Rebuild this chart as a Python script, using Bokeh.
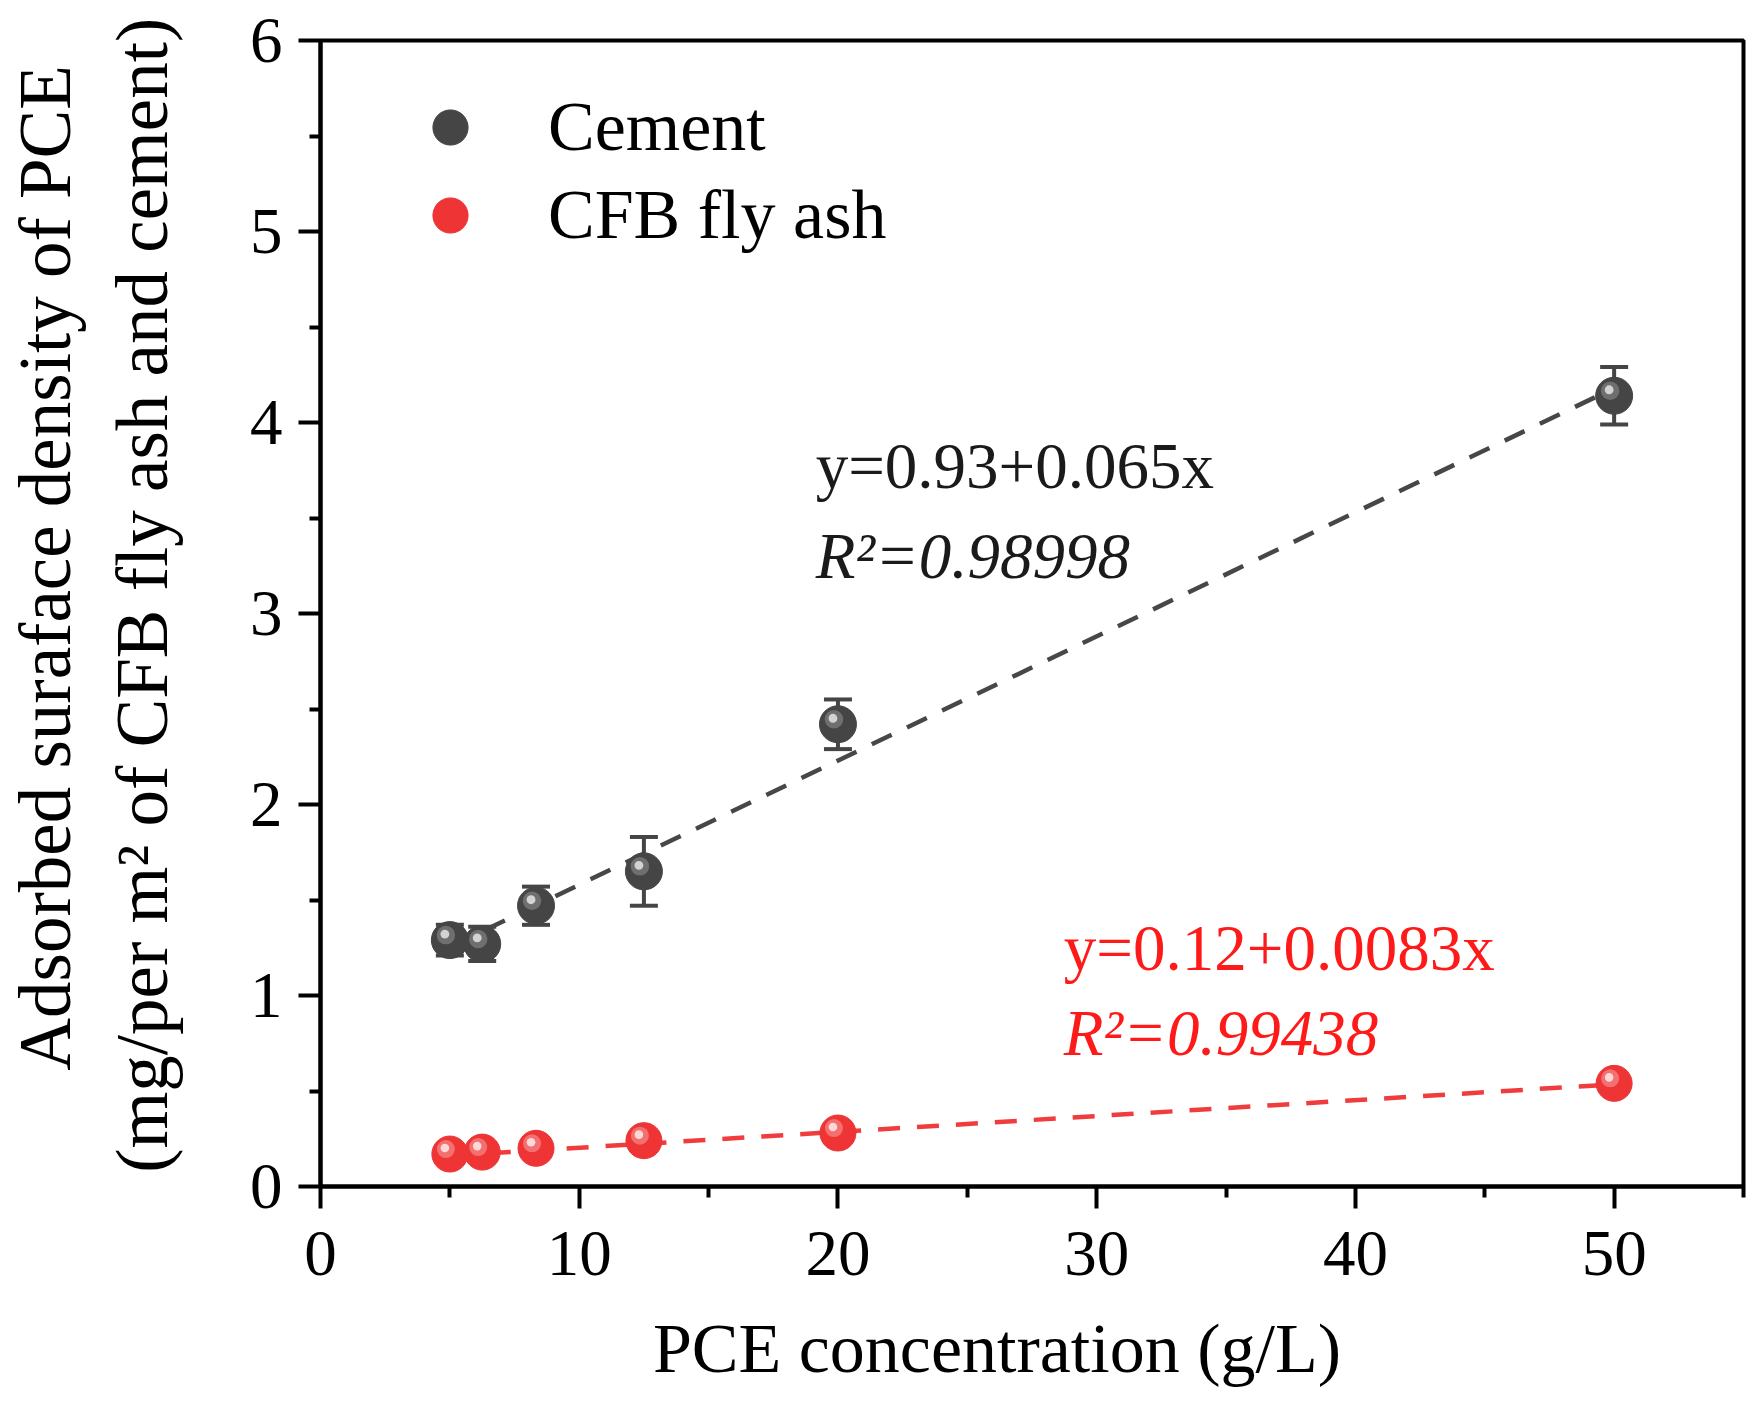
import numpy as np
from bokeh.plotting import figure
from bokeh.models import (Range1d, FixedTicker, Whisker, TeeHead, ColumnDataSource,
                          Label, Legend, LegendItem)
from bokeh.embed import file_html
from bokeh.resources import INLINE

# ---- data ----
conc = [5, 6.25, 8.33, 12.5, 20, 50]
cement = [1.29, 1.27, 1.47, 1.65, 2.42, 4.14]
cement_err = [0.08, 0.09, 0.10, 0.18, 0.13, 0.15]
flyash = [0.17, 0.18, 0.20, 0.24, 0.28, 0.54]
cement_fit = [0.93, 0.065]      # intercept, slope
flyash_fit = [0.12, 0.0083]
fit_x = [5, 50]
x_ticks = [0, 10, 20, 30, 40, 50]
x_minor = [5, 15, 25, 35, 45, 55]
y_ticks = [0, 1, 2, 3, 4, 5, 6]
y_minor = [0.5, 1.5, 2.5, 3.5, 4.5, 5.5]

FONT = "Liberation Serif"
GRAY = "#454545"
RED = "#ee3434"

FW, FH = 1423, 1146
XMAX, YMAX = 55, 6
px_x = FW / XMAX
px_y = FH / YMAX

p = figure(frame_width=FW, frame_height=FH,
           x_range=Range1d(0, XMAX), y_range=Range1d(0, YMAX),
           output_backend="svg", toolbar_location=None,
           min_border_left=320, min_border_right=7,
           min_border_top=40, min_border_bottom=212)
p.background_fill_color = "white"
p.border_fill_color = "white"
p.grid.visible = False
p.outline_line_color = "black"
p.outline_line_width = 4

for ax in (p.xaxis[0], p.yaxis[0]):
    ax.axis_line_width = 4
    ax.major_tick_line_width = 4
    ax.minor_tick_line_width = 4
    ax.major_tick_in = 0
    ax.major_tick_out = 22
    ax.minor_tick_in = 0
    ax.minor_tick_out = 11
    ax.major_label_text_font = FONT
    ax.major_label_text_font_size = "65px"
    ax.major_label_text_color = "black"
    ax.axis_label_text_font = FONT
    ax.axis_label_text_font_style = "normal"
    ax.axis_label_text_color = "black"

p.xaxis.ticker = FixedTicker(ticks=x_ticks, minor_ticks=x_minor)
p.yaxis.ticker = FixedTicker(ticks=y_ticks, minor_ticks=y_minor)
p.xaxis.major_label_standoff = 23
p.yaxis.major_label_standoff = 16
p.xaxis.axis_label = "PCE concentration (g/L)\u00a0\u00a0\u00a0\u00a0"
p.xaxis.axis_label_text_font_size = "70px"
p.xaxis.axis_label_standoff = 32
p.yaxis.axis_label = ("\u00a0" * 5 + "Adsorbed suraface density of PCE\n"
                      + "\u00a0" * 2 + "(mg/per m\u00b2 of CFB fly ash and cement)")
p.yaxis.axis_label_text_font_size = "73px"
p.yaxis.axis_label_text_line_height = 1.2
p.yaxis.axis_label_standoff = 64

# ---- fit lines ----
cx = np.array(fit_x, dtype=float)
p.line(cx, cement_fit[0] + cement_fit[1] * cx, line_color="#474747",
       line_width=4.5, line_dash="22 17")
p.line(cx, flyash_fit[0] + flyash_fit[1] * cx, line_color="#f03c3c",
       line_width=4.5, line_dash="22 17")

# ---- error bars ----
x = np.array(conc, dtype=float)
cy = np.array(cement, dtype=float)
ce = np.array(cement_err, dtype=float)
fy = np.array(flyash, dtype=float)
esrc = ColumnDataSource(dict(x=x, upper=cy + ce, lower=cy - ce))
p.add_layout(Whisker(base="x", upper="upper", lower="lower", source=esrc,
                     line_color=GRAY, line_width=4,
                     upper_head=TeeHead(size=28, line_width=4, line_color=GRAY),
                     lower_head=TeeHead(size=28, line_width=4, line_color=GRAY)))

# ---- spheres (base + highlights) ----
def sphere(ys, base, mid, hi, size):
    r = p.scatter(x, ys, size=size, marker="circle", fill_color=base, line_color=base)
    p.scatter(x - 4 / px_x, ys + 5 / px_y, size=size * 0.5, marker="circle",
              fill_color=mid, line_color=None, fill_alpha=0.85)
    p.scatter(x - 5 / px_x, ys + 6 / px_y, size=size * 0.24, marker="circle",
              fill_color=hi, line_color=None, fill_alpha=0.9)
    return r

r_cem = sphere(cy, GRAY, "#777777", "#dedede", 37)
r_fly = sphere(fy, RED, "#f47a7a", "#fde3e3", 36)

# ---- legend ----
legend = Legend(items=[LegendItem(label="Cement", renderers=[r_cem]),
                       LegendItem(label="CFB fly ash", renderers=[r_fly])],
                location=(85, 927), glyph_width=90, glyph_height=88,
                label_standoff=53, spacing=0, padding=0, margin=0,
                border_line_color=None, background_fill_alpha=0,
                label_text_font=FONT, label_text_font_size="70px",
                label_text_color="black", label_text_baseline="middle")
p.add_layout(legend, "center")

# ---- equations ----
def lab(xv, yv, t, color, style="normal"):
    p.add_layout(Label(x=xv, y=yv, text=t, text_font=FONT, text_font_size="65px",
                       text_color=color, text_font_style=style,
                       text_baseline="alphabetic", text_align="left"))

lab(19.14, 3.77, "y=0.93+0.065x", "#1a1a1a")
lab(19.14, 3.30, "R\u00b2=0.98998", "#1a1a1a", "italic")
lab(28.73, 1.25, "y=0.12+0.0083x", "#ff1a1a")
lab(28.73, 0.805, "R\u00b2=0.99438", "#ff1a1a", "italic")

open("out.html", "w").write(file_html(p, INLINE))
